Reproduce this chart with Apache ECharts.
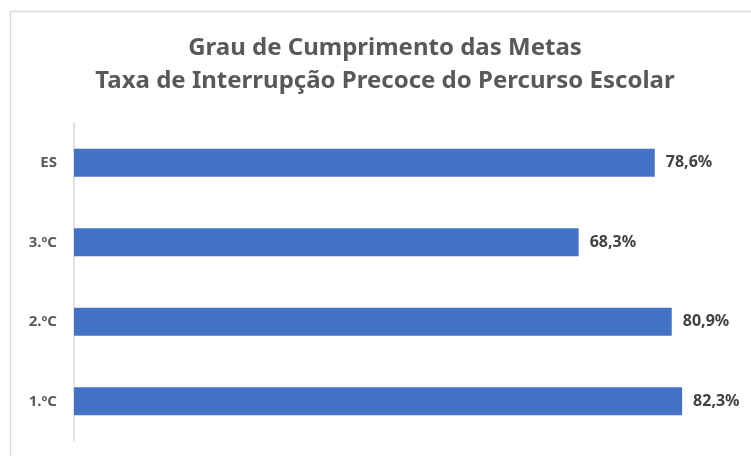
<!DOCTYPE html>
<html>
<head>
    <meta charset="utf-8">
    <title>Grau de Cumprimento das Metas</title>
    <script src="https://cdn.jsdelivr.net/npm/echarts@6/dist/echarts.min.js"></script>
</head>
<body style="margin:0">
    <div id="main" style="width: 751px;height:456px;"></div>
    <script type="text/javascript">
    // dados (de baixo para cima)
    var categorias = ['1.ºC', '2.ºC', '3.ºC', 'ES'];
    var valores = [82.3, 80.9, 68.3, 78.6];

    var myChart = echarts.init(document.getElementById('main'));

    var option = {
        backgroundColor: '#fff',
        title: {
            text: 'Grau de Cumprimento das Metas\nTaxa de Interrupção Precoce do Percurso Escolar',
            left: 385,
            textAlign: 'center',
            top: 32,
            padding: 0,
            textStyle: {
                fontFamily: 'Noto Sans',
                fontSize: 24,
                fontWeight: 'bold',
                color: '#595959',
                lineHeight: 33
            }
        },
        graphic: [{
            type: 'rect',
            shape: { x: 10.5, y: 11.5, width: 780, height: 480 },
            style: { fill: 'none', stroke: '#d9d9d9', lineWidth: 1.5 },
            silent: true
        }],
        grid: {
            left: 74,
            right: 12,
            top: 123,
            bottom: 15
        },
        xAxis: {
            type: 'value',
            min: 0,
            max: 90,
            show: false
        },
        yAxis: {
            type: 'category',
            data: categorias,
            axisTick: { show: false },
            axisLine: { lineStyle: { color: '#d9d9d9', width: 1.5 } },
            axisLabel: {
                margin: 17,
                fontFamily: 'Noto Sans',
                fontSize: 15,
                fontWeight: 'bold',
                color: '#595959'
            }
        },
        series: [{
            type: 'bar',
            data: valores,
            barWidth: 28,
            itemStyle: { color: '#4472c4' },
            label: {
                show: true,
                position: 'right',
                distance: 11,
                formatter: function (p) {
                    return p.value.toFixed(1).replace('.', ',') + '%';
                },
                fontFamily: 'Noto Sans',
                fontSize: 16,
                fontWeight: 'bold',
                color: '#404040'
            }
        }]
    };

    myChart.setOption(option);
    </script>
</body>
</html>
